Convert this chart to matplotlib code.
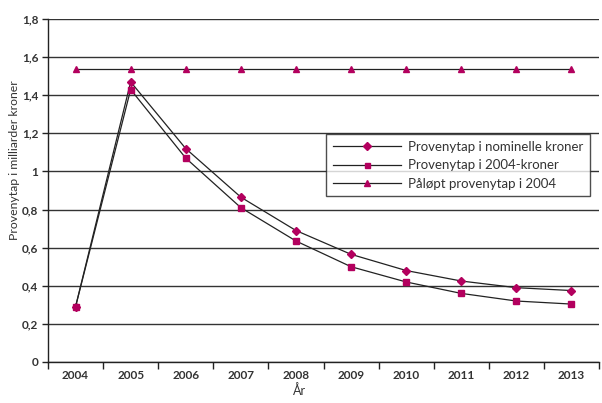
import matplotlib
matplotlib.use("Agg")
import matplotlib.pyplot as plt
import numpy as np

years = ["2004", "2005", "2006", "2007", "2008", "2009", "2010", "2011", "2012", "2013"]
nominal = [0.29, 1.47, 1.12, 0.865, 0.69, 0.565, 0.48, 0.425, 0.39, 0.375]
real2004 = [0.29, 1.43, 1.07, 0.81, 0.635, 0.50, 0.42, 0.36, 0.32, 0.304]
accrued = [1.54] * 10
yticks = [0, 0.2, 0.4, 0.6, 0.8, 1.0, 1.2, 1.4, 1.6, 1.8]
ytick_labels = ["0", "0,2", "0,4", "0,6", "0,8", "1", "1,2", "1,4", "1,6", "1,8"]

plt.rcParams['font.family'] = ['Lato', 'DejaVu Sans']
mag = '#b3005e'
txt = '#333333'

fig = plt.figure(figsize=(6.02, 4.03), dpi=100)
ax = fig.add_axes([48/602, 1-362/403, 551/602, (362-19)/403])

x = np.arange(len(years))
ax.plot(x, nominal, color='#222222', lw=0.9, marker='D', ms=4, mfc=mag, mec=mag,
        label='Provenytap i nominelle kroner')
ax.plot(x, real2004, color='#222222', lw=0.9, marker='s', ms=4, mfc=mag, mec=mag,
        label='Provenytap i 2004-kroner')
ax.plot(x, accrued, color='#222222', lw=0.9, marker='^', ms=5, mfc=mag, mec=mag,
        label='Påløpt provenytap i 2004')

ax.set_xlim(-0.5, len(years) - 0.5)
ax.set_ylim(0, 1.8)
ax.set_yticks(yticks)
ax.set_yticklabels(ytick_labels, fontweight='bold', color=txt, fontsize=8.5)
ax.set_xticks(x)
ax.set_xticklabels(years, fontweight='bold', color=txt, fontsize=8.5)
ax.tick_params(axis='x', length=0, pad=6)
ax.set_xticks(np.arange(-0.5, len(years), 1.0), minor=True)
ax.tick_params(axis='x', which='minor', length=5, width=1, color='#222222')
ax.tick_params(axis='y', length=4, width=1, color='#222222', pad=3)
ax.yaxis.grid(True, color='#333333', lw=1)
ax.set_axisbelow(True)
for s in ['top', 'right']:
    ax.spines[s].set_visible(False)
for s in ['left', 'bottom']:
    ax.spines[s].set_color('#222222')
    ax.spines[s].set_linewidth(1)

fig.text(300/602, 1-391/403, 'År', color=txt, fontsize=9, ha='center', va='center')
fig.text(15/602, 1-160/403, 'Provenytap i milliarder kroner', color=txt, fontsize=8.8,
         rotation=90, ha='center', va='center')

leg = ax.legend(loc='upper left', bbox_to_anchor=((326-48)/551, (362-134)/343),
                frameon=True, fancybox=False, edgecolor='#222222', fontsize=9.5,
                borderpad=0.5, labelspacing=0.5, handlelength=5.2, handletextpad=0.5,
                borderaxespad=0, markerscale=0.9)
leg.get_frame().set_linewidth(1)
for t in leg.get_texts():
    t.set_color(txt)

fig.savefig('out.png', dpi=100)
